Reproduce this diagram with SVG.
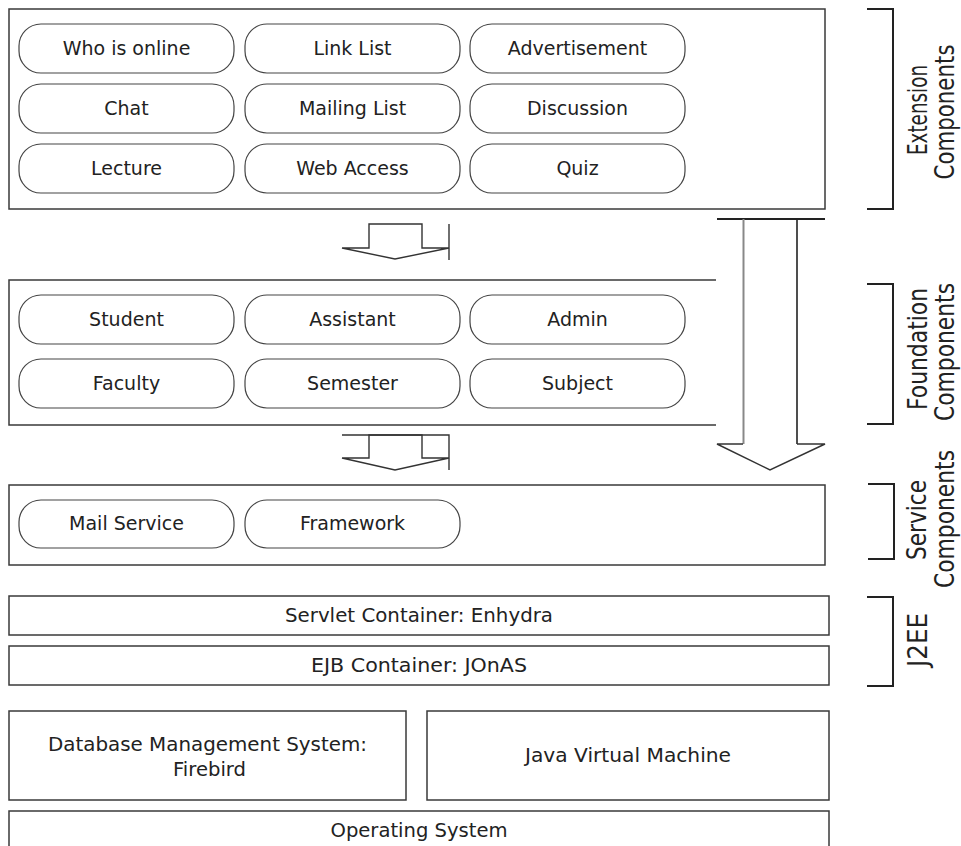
<svg xmlns="http://www.w3.org/2000/svg" width="961" height="846" viewBox="0 0 961 846">
<style>
.box{fill:none;stroke:#3a3a3a;stroke-width:1.5}
.pill{fill:#fff;stroke:#444;stroke-width:1.2}
.t{font-family:"DejaVu Sans","Verdana",sans-serif;font-size:19px;fill:#222;text-anchor:middle}
.bt{font-family:"DejaVu Sans","Verdana",sans-serif;font-size:20px;fill:#222;text-anchor:middle}
.rt{font-family:"DejaVu Sans",sans-serif;font-size:26px;fill:#222;text-anchor:middle}
.br{fill:none;stroke:#222;stroke-width:2}
.ar{fill:#fff;stroke:#333;stroke-width:1.4}
</style>
<rect width="961" height="846" fill="#fff"/>

<g id="extension">
<rect class="box" x="9" y="9" width="816" height="200"/>
<g id="who"><rect class="pill" x="19" y="24" width="215" height="49" rx="22"/><text class="t" x="126.5" y="55">Who is online</text></g>
<g id="link"><rect class="pill" x="245" y="24" width="215" height="49" rx="22"/><text class="t" x="352.5" y="55">Link List</text></g>
<g id="adv"><rect class="pill" x="470" y="24" width="215" height="49" rx="22"/><text class="t" x="577.5" y="55">Advertisement</text></g>
<g id="chat"><rect class="pill" x="19" y="84" width="215" height="49" rx="22"/><text class="t" x="126.5" y="115">Chat</text></g>
<g id="mailing"><rect class="pill" x="245" y="84" width="215" height="49" rx="22"/><text class="t" x="352.5" y="115">Mailing List</text></g>
<g id="discussion"><rect class="pill" x="470" y="84" width="215" height="49" rx="22"/><text class="t" x="577.5" y="115">Discussion</text></g>
<g id="lecture"><rect class="pill" x="19" y="144" width="215" height="49" rx="22"/><text class="t" x="126.5" y="175">Lecture</text></g>
<g id="webaccess"><rect class="pill" x="245" y="144" width="215" height="49" rx="22"/><text class="t" x="352.5" y="175">Web Access</text></g>
<g id="quiz"><rect class="pill" x="470" y="144" width="215" height="49" rx="22"/><text class="t" x="577.5" y="175">Quiz</text></g>
</g>

<g id="foundation">
<path class="box" d="M716,280 H9 V425 H716"/>
<g id="student"><rect class="pill" x="19" y="295" width="215" height="49" rx="22"/><text class="t" x="126.5" y="326">Student</text></g>
<g id="assistant"><rect class="pill" x="245" y="295" width="215" height="49" rx="22"/><text class="t" x="352.5" y="326">Assistant</text></g>
<g id="admin"><rect class="pill" x="470" y="295" width="215" height="49" rx="22"/><text class="t" x="577.5" y="326">Admin</text></g>
<g id="faculty"><rect class="pill" x="19" y="359" width="215" height="49" rx="22"/><text class="t" x="126.5" y="390">Faculty</text></g>
<g id="semester"><rect class="pill" x="245" y="359" width="215" height="49" rx="22"/><text class="t" x="352.5" y="390">Semester</text></g>
<g id="subject"><rect class="pill" x="470" y="359" width="215" height="49" rx="22"/><text class="t" x="577.5" y="390">Subject</text></g>
</g>

<g id="service">
<rect class="box" x="9" y="485" width="816" height="80"/>
<g id="mail"><rect class="pill" x="19" y="500" width="215" height="48" rx="22"/><text class="t" x="126.5" y="530">Mail Service</text></g>
<g id="framework"><rect class="pill" x="245" y="500" width="215" height="48" rx="22"/><text class="t" x="352.5" y="530">Framework</text></g>
</g>

<g id="servlet"><rect class="box" x="9" y="596" width="820" height="39"/><text class="bt" x="419" y="622" textLength="268" lengthAdjust="spacingAndGlyphs">Servlet Container: Enhydra</text></g>
<g id="ejb"><rect class="box" x="9" y="646" width="820" height="39"/><text class="bt" x="419" y="672" textLength="216" lengthAdjust="spacingAndGlyphs">EJB Container: JOnAS</text></g>
<g id="dbms"><rect class="box" x="9" y="711" width="397" height="89"/><text class="bt" x="207.5" y="751" textLength="319" lengthAdjust="spacingAndGlyphs">Database Management System:</text><text class="bt" x="209.5" y="776" textLength="73" lengthAdjust="spacingAndGlyphs">Firebird</text></g>
<g id="jvm"><rect class="box" x="427" y="711" width="402" height="89"/><text class="bt" x="628" y="762" textLength="206" lengthAdjust="spacingAndGlyphs">Java Virtual Machine</text></g>
<g id="os"><rect class="box" x="9" y="811" width="820" height="45"/><text class="bt" x="419" y="837" textLength="177" lengthAdjust="spacingAndGlyphs">Operating System</text></g>

<g id="connectors">
<path class="ar" d="M369,248 V224 H422 V248 H449 L395,259 L342,248 Z"/>
<line x1="449" y1="224" x2="449" y2="260" stroke="#333" stroke-width="1.4"/>
<path class="ar" d="M369,458 V435 H422 V458 H449 L395,470 L342,458 Z"/>
<path d="M342,435 H449 V470" fill="none" stroke="#333" stroke-width="1.4"/>
<path d="M743,219 V444 H717 L770,470 L825,444 H797 V219" fill="#fff" stroke="none"/>
<line x1="717" y1="219" x2="825" y2="219" stroke="#222" stroke-width="1.8"/>
<line x1="743.5" y1="219" x2="743.5" y2="444" stroke="#888" stroke-width="2"/>
<line x1="797" y1="219" x2="797" y2="444" stroke="#222" stroke-width="1.6"/>
<path d="M743,444 H717 L770,470 L825,444 H797" fill="none" stroke="#333" stroke-width="1.4"/>
</g>

<g id="labels">
<path class="br" d="M867,9 H893 V209 H867"/>
<text class="rt" transform="translate(927,110) rotate(-90)" textLength="90" lengthAdjust="spacingAndGlyphs">Extension</text>
<text class="rt" transform="translate(954,112) rotate(-90)" textLength="135" lengthAdjust="spacingAndGlyphs">Components</text>
<path class="br" d="M867,284 H893 V424 H867"/>
<text class="rt" transform="translate(927,349) rotate(-90)" textLength="122" lengthAdjust="spacingAndGlyphs">Foundation</text>
<text class="rt" transform="translate(954,352) rotate(-90)" textLength="138" lengthAdjust="spacingAndGlyphs">Components</text>
<path class="br" d="M868,484 H894 V559 H868"/>
<text class="rt" transform="translate(926,520) rotate(-90)" textLength="80" lengthAdjust="spacingAndGlyphs">Service</text>
<text class="rt" transform="translate(954,519) rotate(-90)" textLength="138" lengthAdjust="spacingAndGlyphs">Components</text>
<path class="br" d="M867,597 H893 V686 H867"/>
<text class="rt" transform="translate(927,640) rotate(-90)" textLength="54" lengthAdjust="spacingAndGlyphs">J2EE</text>
</g>
</svg>
